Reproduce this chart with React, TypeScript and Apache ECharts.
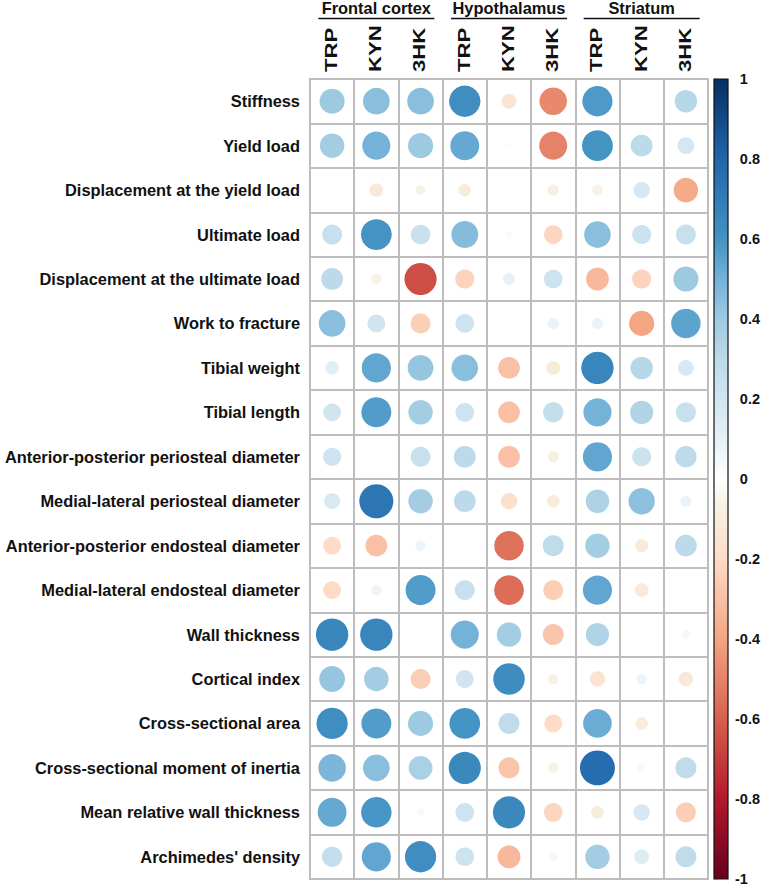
import React, { useEffect, useRef } from 'react';
import * as echarts from 'echarts';

// ---------- data ----------
const rowLabels = [
  'Stiffness',
  'Yield load',
  'Displacement at the yield load',
  'Ultimate load',
  'Displacement at the ultimate load',
  'Work to fracture',
  'Tibial weight',
  'Tibial length',
  'Anterior-posterior periosteal diameter',
  'Medial-lateral periosteal diameter',
  'Anterior-posterior endosteal diameter',
  'Medial-lateral endosteal diameter',
  'Wall thickness',
  'Cortical index',
  'Cross-sectional area',
  'Cross-sectional moment of inertia',
  'Mean relative wall thickness',
  "Archimedes' density",
];
const regionLabels = ['Frontal cortex', 'Hypothalamus', 'Striatum'];
const columnLabels = ['TRP', 'KYN', '3HK', 'TRP', 'KYN', '3HK', 'TRP', 'KYN', '3HK'];
const colorbarTicks = [-1, -0.8, -0.6, -0.4, -0.2, 0, 0.2, 0.4, 0.6, 0.8, 1];

// correlation coefficients, one array per column (null = blank cell)
const fcTRP = [0.40, 0.38, null, 0.25, 0.30, 0.45, 0.12, 0.20, 0.21, 0.16, -0.20, -0.20, 0.66, 0.42, 0.62, 0.48, 0.53, 0.26];
const fcKYN = [0.45, 0.50, -0.12, 0.60, -0.07, 0.20, 0.54, 0.57, null, 0.73, -0.30, 0.07, 0.66, 0.38, 0.57, 0.45, 0.59, 0.54];
const fc3HK = [0.45, 0.40, -0.06, 0.24, -0.65, -0.25, 0.42, 0.38, 0.25, 0.38, 0.07, 0.57, null, -0.25, 0.40, 0.36, 0.04, 0.62];
const hyTRP = [0.62, 0.53, -0.10, 0.46, -0.23, 0.22, 0.45, 0.22, 0.30, 0.30, null, 0.25, 0.50, 0.20, 0.60, 0.65, 0.22, 0.22];
const hyKYN = [-0.14, 0.02, null, 0.03, 0.09, null, -0.30, -0.30, -0.30, -0.17, -0.55, -0.56, 0.38, 0.63, 0.28, -0.28, 0.65, -0.33];
const hy3HK = [-0.48, -0.50, -0.08, -0.22, 0.22, 0.08, -0.12, 0.26, -0.08, -0.10, 0.28, -0.25, -0.28, -0.07, -0.20, -0.07, -0.22, 0.05];
const stTRP = [0.58, 0.60, -0.07, 0.45, -0.33, 0.08, 0.66, 0.50, 0.54, 0.35, 0.38, 0.54, 0.34, -0.15, 0.52, 0.77, -0.10, 0.38];
const stKYN = [null, 0.30, 0.17, 0.23, -0.23, -0.40, 0.32, 0.34, 0.23, 0.44, -0.11, -0.12, null, 0.07, -0.10, 0.04, 0.17, 0.14];
const st3HK = [0.32, 0.18, -0.38, 0.25, 0.40, 0.55, 0.16, 0.25, 0.29, 0.08, 0.30, null, 0.05, -0.13, null, 0.28, -0.25, 0.28];

const columns = [fcTRP, fcKYN, fc3HK, hyTRP, hyKYN, hy3HK, stTRP, stKYN, st3HK];

// ---------- layout / style ----------
const W = 769;
const H = 886;
const gridLeft = 310;
const gridTop = 79;
const gridWidth = 398;
const gridHeight = 800;
const cellW = gridWidth / columnLabels.length;
const maxDiameter = 0.9 * cellW;
const barLeft = 714;
const barWidth = 14;
const font = "'Liberation Sans', Arial, sans-serif";

// colour scale anchors [value, colour]
const anchors: [number, string][] = [
  [-1, '#67001F'],
  [-0.8, '#B2182B'],
  [-0.6, '#D6604D'],
  [-0.4, '#F4A582'],
  [-0.2, '#FDDBC7'],
  [-0.06, '#f6f3e6'],
  [0, '#FFFFFF'],
  [0.1, '#e6f0f7'],
  [0.2, '#D1E5F0'],
  [0.3, '#bcdaea'],
  [0.4, '#9ecae1'],
  [0.5, '#74b2d8'],
  [0.6, '#4393C3'],
  [0.8, '#2166AC'],
  [1, '#053061'],
];

function hex(c: string) {
  return [1, 3, 5].map((i) => parseInt(c.slice(i, i + 2), 16));
}
function buildPalette(n: number) {
  const out: string[] = [];
  for (let k = 0; k < n; k++) {
    const v = -1 + (2 * k) / (n - 1);
    let j = 0;
    while (j < anchors.length - 2 && v > anchors[j + 1][0]) j++;
    const [v0, c0] = anchors[j];
    const [v1, c1] = anchors[j + 1];
    const t = Math.min(1, Math.max(0, (v - v0) / (v1 - v0)));
    const a = hex(c0);
    const b = hex(c1);
    const rgb = a.map((x, i) => Math.round(x + (b[i] - x) * t));
    out.push(`rgb(${rgb[0]},${rgb[1]},${rgb[2]})`);
  }
  return out;
}
const palette = buildPalette(101);

function buildOption() {
  const points: any[] = [];
  columns.forEach((col, ci) => {
    col.forEach((v, ri) => {
      if (v !== null) points.push([ci, ri, v]);
    });
  });

  const graphics: any[] = [];
  regionLabels.forEach((name, g) => {
    const cx = gridLeft + cellW * (1.5 + 3 * g);
    graphics.push({
      type: 'text',
      x: cx,
      y: 8,
      style: {
        text: name,
        font: `bold 16.4px ${font}`,
        fill: '#111',
        align: 'center',
        verticalAlign: 'middle',
      },
    });
    graphics.push({
      type: 'line',
      shape: { x1: cx - 58, y1: 18.5, x2: cx + 58, y2: 18.5 },
      style: { stroke: '#111', lineWidth: 1.5 },
    });
  });
  columnLabels.forEach((name, i) => {
    graphics.push({
      type: 'text',
      x: gridLeft + cellW * (i + 0.5) - 1,
      y: 72,
      rotation: Math.PI / 2,
      scaleX: 1.35,
      style: {
        text: name,
        font: `bold 16.4px ${font}`,
        fill: '#111',
        align: 'left',
        verticalAlign: 'middle',
      },
    });
  });
  const stops = palette
    .slice()
    .reverse()
    .map((c, i) => ({ offset: i / (palette.length - 1), color: c }));
  graphics.push({
    type: 'rect',
    shape: { x: barLeft, y: gridTop, width: barWidth, height: gridHeight },
    style: {
      fill: new echarts.graphic.LinearGradient(0, 0, 0, 1, stops),
      stroke: '#111',
      lineWidth: 1.2,
    },
    z: 10,
  });

  return {
    animation: false,
    backgroundColor: '#fff',
    grid: [
      {
        left: gridLeft,
        top: gridTop,
        width: gridWidth,
        height: gridHeight,
        show: true,
        borderColor: '#bdbdbd',
        borderWidth: 2,
        backgroundColor: '#fff',
      },
      { left: barLeft, top: gridTop, width: barWidth, height: gridHeight },
    ],
    xAxis: [
      {
        type: 'category',
        gridIndex: 0,
        data: columnLabels.map((c, i) => c + '_' + i),
        position: 'top',
        axisLine: { show: false },
        axisTick: { show: false },
        axisLabel: { show: false },
        splitLine: { show: true, interval: 0, lineStyle: { color: '#bdbdbd', width: 2 } },
      },
      { type: 'value', gridIndex: 1, show: false, min: 0, max: 1 },
    ],
    yAxis: [
      {
        type: 'category',
        gridIndex: 0,
        data: rowLabels,
        inverse: true,
        axisLine: { show: false },
        axisTick: { show: false },
        axisLabel: {
          margin: 10,
          fontFamily: font,
          fontWeight: 'bold',
          fontSize: 16.4,
          color: '#111',
        },
        splitLine: { show: true, interval: 0, lineStyle: { color: '#bdbdbd', width: 2 } },
      },
      {
        type: 'value',
        gridIndex: 1,
        position: 'right',
        min: colorbarTicks[0],
        max: colorbarTicks[colorbarTicks.length - 1],
        interval: 0.2,
        axisLine: { show: false },
        axisTick: { show: true, length: 4, lineStyle: { color: '#111', width: 1.2 } },
        splitLine: { show: false },
        axisLabel: {
          margin: 7,
          fontFamily: font,
          fontWeight: 'bold',
          fontSize: 14.5,
          color: '#111',
          align: 'left',
          formatter: (v: number) => {
            const t = String(Number(v.toFixed(1)));
            return v >= -1e-9 ? '{h|-}' + t : t;
          },
          rich: {
            h: { color: 'rgba(0,0,0,0)', fontFamily: font, fontWeight: 'bold', fontSize: 14.5 },
          },
        },
      },
    ],
    visualMap: {
      type: 'continuous',
      show: false,
      seriesIndex: 0,
      dimension: 2,
      min: -1,
      max: 1,
      inRange: { color: palette },
    },
    graphic: graphics,
    series: [
      {
        type: 'scatter',
        xAxisIndex: 0,
        yAxisIndex: 0,
        data: points,
        symbol: 'circle',
        symbolSize: (v: number[]) => maxDiameter * Math.sqrt(Math.abs(v[2])),
        itemStyle: { opacity: 1 },
        emphasis: { disabled: true },
      },
    ],
  };
}

export default function App() {
  const ref = useRef<HTMLDivElement>(null);
  useEffect(() => {
    const chart = echarts.init(ref.current!, null, { renderer: 'svg' });
    chart.setOption(buildOption() as any);
    return () => chart.dispose();
  }, []);
  return (
    <div
      ref={ref}
      style={{ position: 'absolute', left: 0, top: 0, width: W, height: H }}
    />
  );
}
